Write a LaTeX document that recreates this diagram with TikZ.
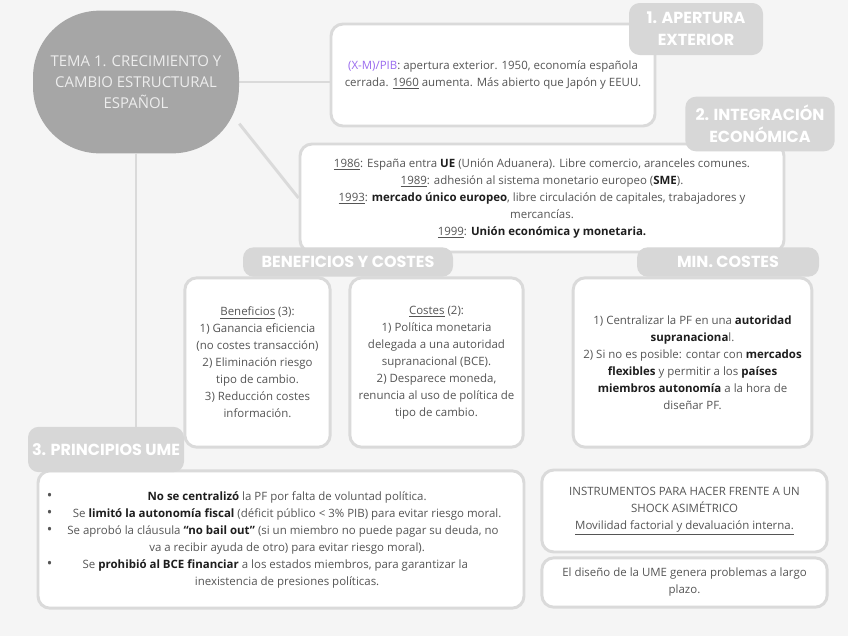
\documentclass[tikz,border=0pt]{standalone}
\usepackage{fontspec}
\setmainfont{Open Sans}
\newfontfamily\tabfont{Poppins}
\usepackage{array}
\usetikzlibrary{positioning,backgrounds}
\definecolor{mapBg}{HTML}{F5F5F5}
\definecolor{mapLine}{HTML}{DADADA}
\definecolor{mapTab}{HTML}{D7D7D7}
\definecolor{mapCore}{HTML}{A6A6A6}
\definecolor{mapText}{HTML}{555555}
\definecolor{mapInk}{HTML}{1E1E1E}
\definecolor{mapViolet}{HTML}{9A6BEF}
\tikzset{
  link/.style={draw=mapLine, line width=2.2pt},
  core/.style={rounded corners=50pt, fill=mapCore, text=white!80!mapCore, align=center, inner sep=0pt, font=\fontsize{11.2}{15.5}\selectfont},
  card/.style={rounded corners=9pt, draw=mapLine, fill=white, line width=2.2pt, align=center, inner sep=0.5pt, text=mapText, font=\fontsize{8.6}{12.75}\selectfont},
  tab/.style={rounded corners=8pt, fill=mapTab, text=white, align=center, inner sep=1pt, font=\tabfont\bfseries\fontsize{12}{16.5}\selectfont}
}
\newcommand{\keyword}[1]{\textbf{\color{mapInk}#1}}
\newcommand{\mapbullet}{{\fontsize{11}{12}\selectfont\textbullet}}

\begin{document}
\begin{tikzpicture}[x=0.75pt,y=-0.75pt]
  \begin{scope}[on background layer]
    \fill[mapBg] (0,0) rectangle (848,636);
  \end{scope}
  \useasboundingbox (0,0) rectangle (848,636);
  % central topic
  \node[core, minimum width=154.5pt, minimum height=107pt] (tema) at (136,82) {TEMA 1. CRECIMIENTO Y\\CAMBIO ESTRUCTURAL\\ESPAÑOL};
  % cards
  \node[card, minimum width=243pt, minimum height=76.5pt] (apert) at (493,75) {\textcolor{mapViolet}{(X-M)/PIB}: apertura exterior. 1950, economía española\\cerrada. \underline{1960} aumenta. Más abierto que Japón y EEUU.};
  \node[card, minimum width=363pt, minimum height=81pt] (integr) at (542,198) {\underline{1986}: España entra \keyword{UE} (Unión Aduanera). Libre comercio, aranceles comunes.\\\underline{1989}: adhesión al sistema monetario europeo (\keyword{SME}).\\\underline{1993}: \keyword{mercado único europeo}, libre circulación de capitales, trabajadores y\\mercancías.\\\underline{1999}: \keyword{Unión económica y monetaria.}};
  \node[card, minimum width=109pt, minimum height=127pt] (benef) at (257.5,362.5) {\underline{Beneficios} (3):\\1) Ganancia eficiencia\\(no costes transacción)\\2) Eliminación riesgo\\tipo de cambio.\\3) Reducción costes\\información.};
  \node[card, minimum width=130pt, minimum height=127pt] (costes) at (436.5,362.5) {\underline{Costes} (2):\\1) Política monetaria\\delegada a una autoridad\\supranacional (BCE).\\2) Desparece moneda,\\renuncia al uso de política de\\tipo de cambio.};
  \node[card, minimum width=179pt, minimum height=127pt] (minc) at (692.5,362.5) {1) Centralizar la PF en una \keyword{autoridad}\\\keyword{supranaciona}l.\\2) Si no es posible: contar con \keyword{mercados}\\\keyword{flexibles} y permitir a los \keyword{países}\\\keyword{miembros autonomía} a la hora de\\diseñar PF.};
  \node[card, minimum width=364.5pt, minimum height=103pt] (princ) at (281,539.5) {\begin{tabular}{@{}l@{\hspace{5pt}}>{\centering\arraybackslash}p{342pt}@{}}
    \mapbullet & \keyword{No se centralizó} la PF por falta de voluntad política.\\
    \mapbullet & Se \keyword{limitó la autonomía fiscal} (déficit público < 3\% PIB) para evitar riesgo moral.\\
    \mapbullet & Se aprobó la cláusula \keyword{``no bail out''} (si un miembro no puede pagar su deuda, no\newline va a recibir ayuda de otro) para evitar riesgo moral).\\
    \mapbullet & Se \keyword{prohibió al BCE financiar} a los estados miembros, para garantizar la\newline inexistencia de presiones políticas.
  \end{tabular}};
  \node[card, minimum width=214pt, minimum height=61.5pt] (instr) at (684.5,511) {INSTRUMENTOS PARA HACER FRENTE A UN\\SHOCK ASIMÉTRICO\\\underline{Movilidad factorial y devaluación interna.}};
  \node[card, minimum width=214pt, minimum height=37pt] (diseno) at (684.5,582.5) {El diseño de la UME genera problemas a largo\\plazo.};
  % tabs
  \node[tab, minimum width=100.5pt, minimum height=39pt] (tabApert) at (696,29) {1. APERTURA\\EXTERIOR};
  \node[tab, minimum width=112pt, minimum height=41pt] (tabInteg) at (760,124) {2. INTEGRACIÓN\\ECONÓMICA};
  \node[tab, minimum width=157.5pt, minimum height=22pt] (tabBC) at (348,262) {BENEFICIOS Y COSTES};
  \node[tab, minimum width=136.5pt, minimum height=22pt] (tabMin) at (728,262) {MIN. COSTES};
  \node[tab, minimum width=117pt, minimum height=34pt] (tabPrinc) at (106,449.5) {3. PRINCIPIOS UME};
  % links
  \begin{scope}[on background layer]
    \draw[link] (tema.east) -- (tema.east -| apert.west);
    \draw[link] (tema.-22) -- (integr.west);
    \draw[link] (tema.south) -- (tema.south |- tabPrinc.north);
  \end{scope}
\end{tikzpicture}
\end{document}
